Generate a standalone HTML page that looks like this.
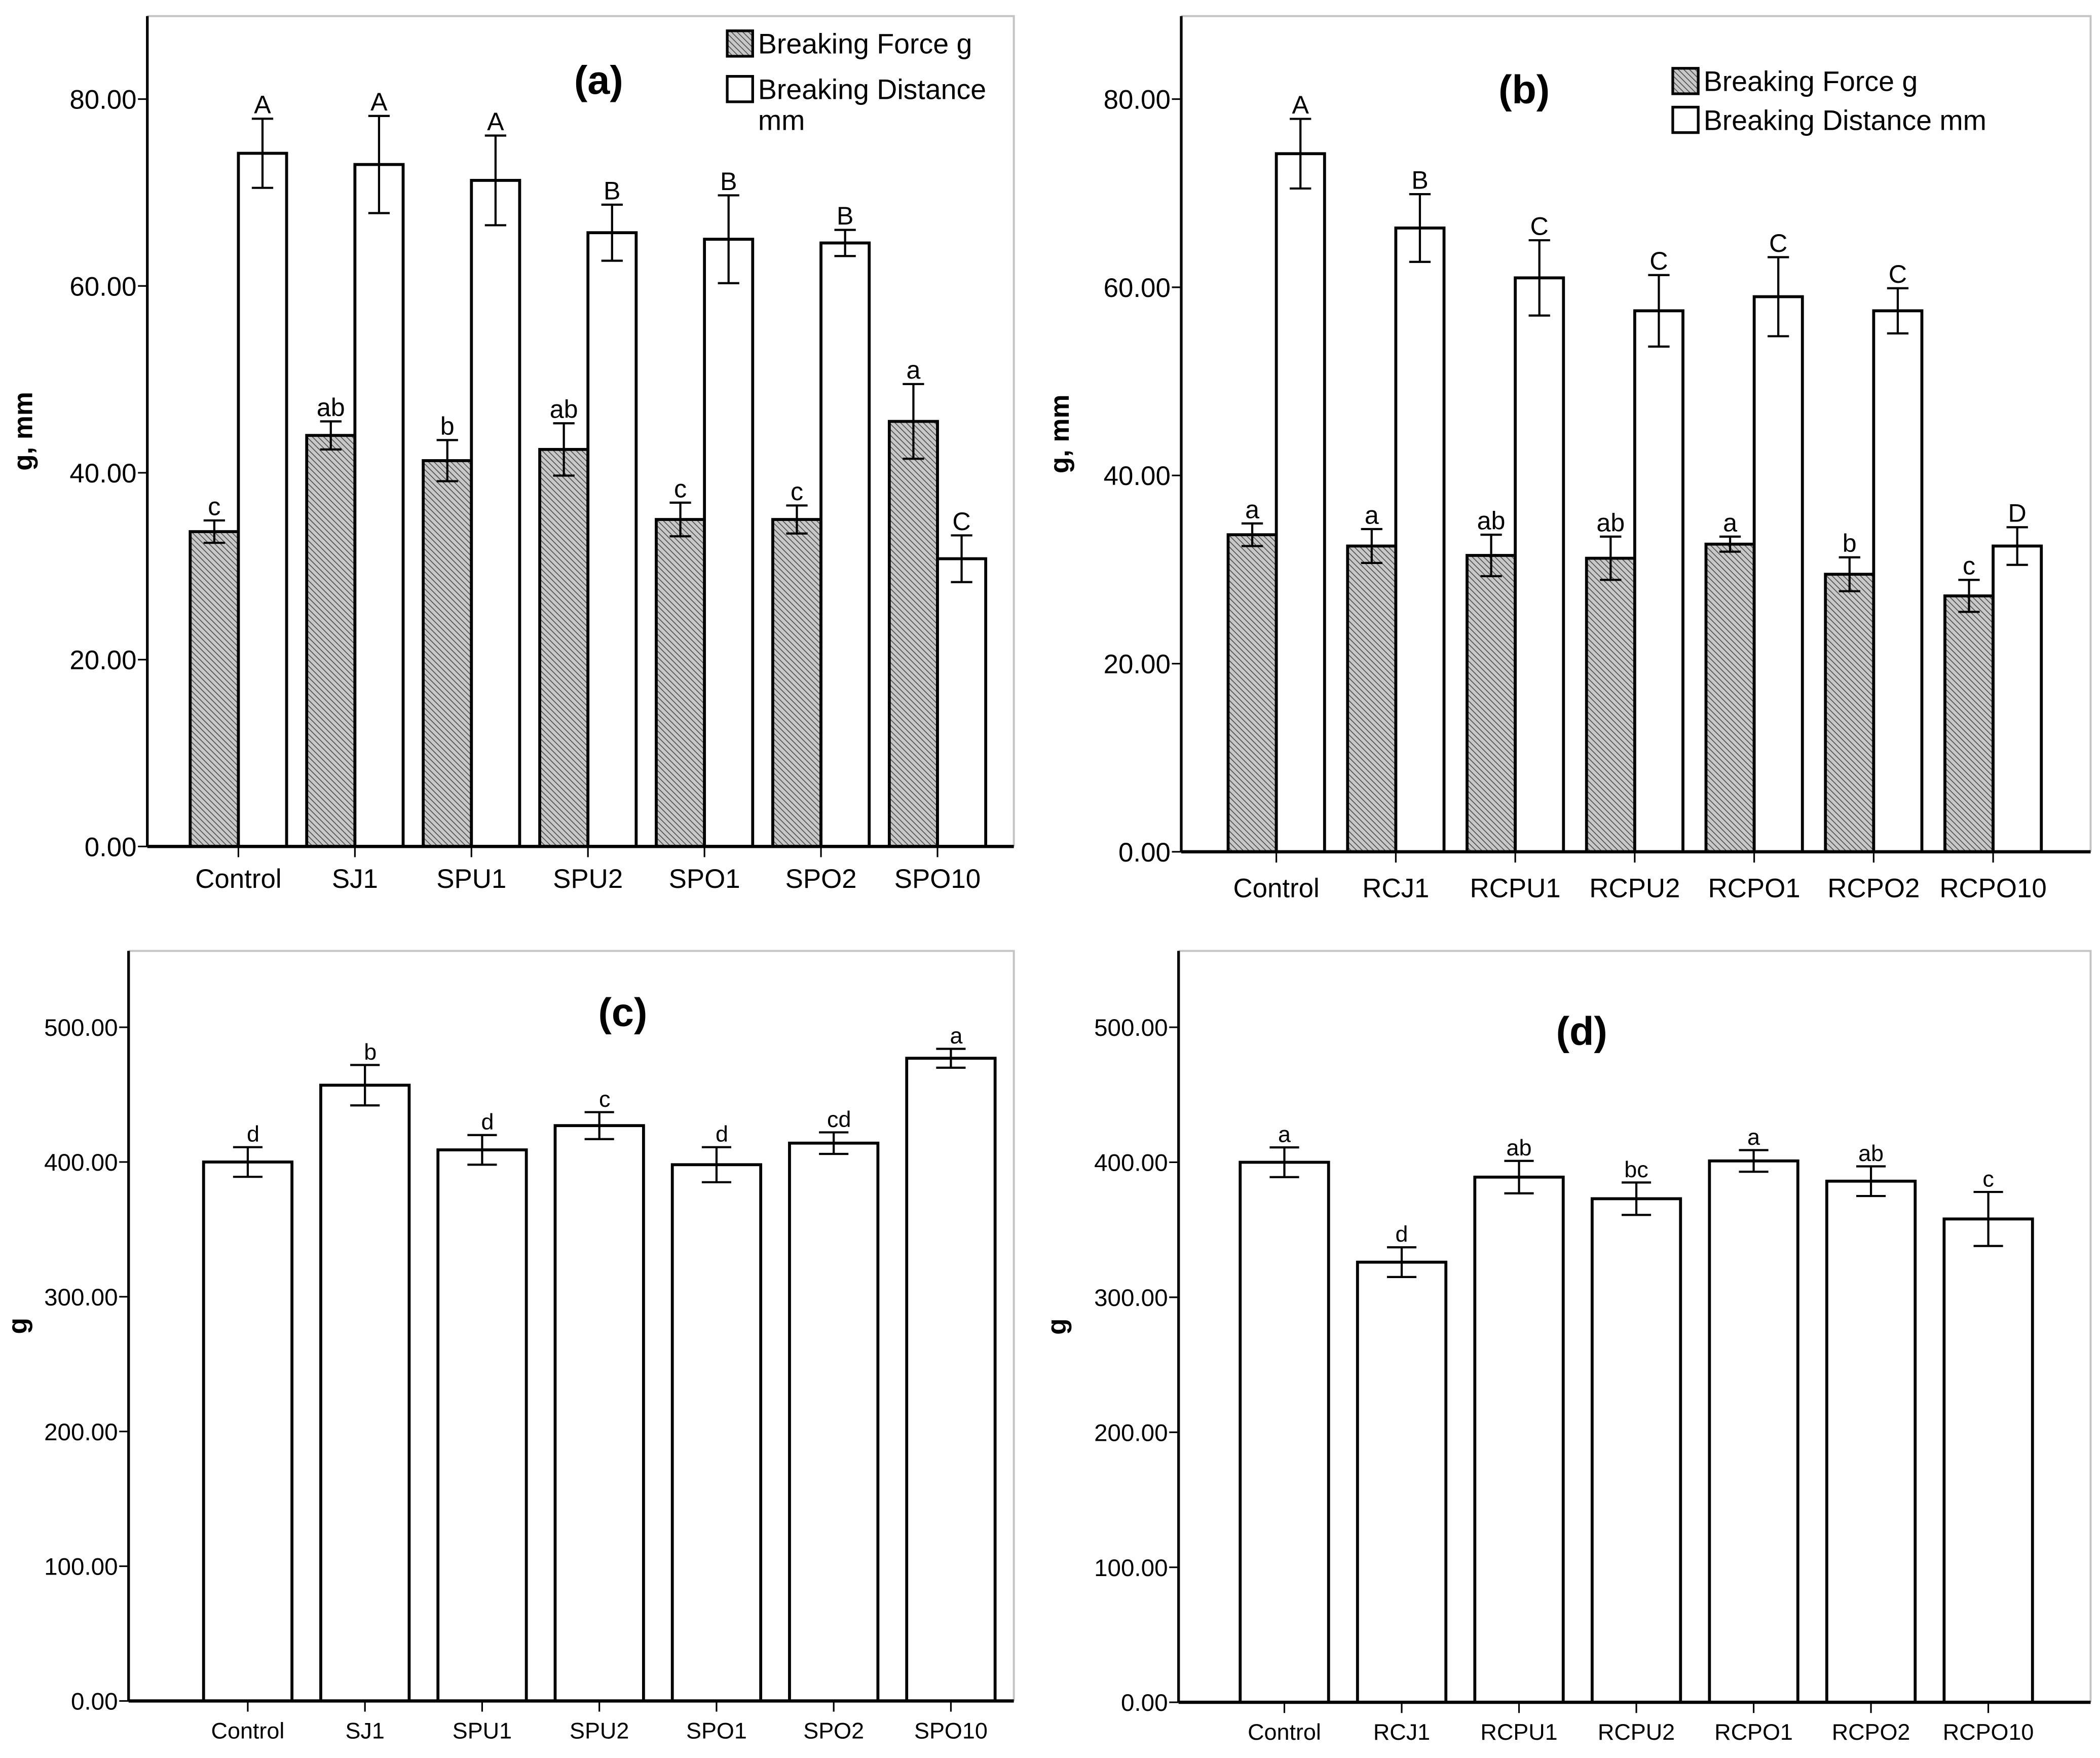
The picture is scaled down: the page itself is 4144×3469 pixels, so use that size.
<!DOCTYPE html>
<html><head><meta charset="utf-8"><style>
html,body{margin:0;padding:0;background:#fff;}
svg{display:block;}
text{font-family:"Liberation Sans",sans-serif;fill:#000;}
</style></head><body>
<svg id="fig" xmlns="http://www.w3.org/2000/svg" width="4144" height="3469" viewBox="0 0 1568 1312.6">
<defs>
<pattern id="hatch" patternUnits="userSpaceOnUse" width="3" height="3" patternTransform="rotate(-45)">
<rect width="3" height="3" fill="#c8c8c8"/>
<line x1="0" y1="0" x2="0" y2="3" stroke="#4a4a4a" stroke-width="1.2"/>
</pattern>
</defs>
<rect x="0" y="0" width="1568" height="1312.6" fill="#fff"/>
</svg>
<script>
// ---- data ----
var catsA = ["Control","SJ1","SPU1","SPU2","SPO1","SPO2","SPO10"];
var bfA = [33.7,44.0,41.3,42.5,35.0,35.0,45.5];
var bfErrA = [1.2,1.5,2.2,2.8,1.8,1.5,4.0];
var bfLetA = ["c","ab","b","ab","c","c","a"];
var bdA = [74.2,73.0,71.3,65.7,65.0,64.6,30.8];
var bdErrA = [3.7,5.2,4.8,3.0,4.7,1.4,2.5];
var bdLetA = ["A","A","A","B","B","B","C"];

var catsB = ["Control","RCJ1","RCPU1","RCPU2","RCPO1","RCPO2","RCPO10"];
var bfB = [33.7,32.5,31.5,31.2,32.7,29.5,27.2];
var bfErrB = [1.2,1.8,2.2,2.3,0.8,1.8,1.7];
var bfLetB = ["a","a","ab","ab","a","b","c"];
var bdB = [74.2,66.3,61.0,57.5,59.0,57.5,32.5];
var bdErrB = [3.7,3.6,4.0,3.8,4.2,2.4,2.0];
var bdLetB = ["A","B","C","C","C","C","D"];

var valC = [400,457,409,427,398,414,477];
var errC = [11,15,11,10,13,8,7];
var letC = ["d","b","d","c","d","cd","a"];

var valD = [400,326,389,373,401,386,358];
var errD = [11,11,12,12,8,11,20];
var letD = ["a","d","ab","bc","a","ab","c"];

var ticksAB = [0,20,40,60,80];
var ticksCD = [0,100,200,300,400,500];

// ---- drawing ----
var NS = "http://www.w3.org/2000/svg";
var svg = document.getElementById('fig');
function mk(tag, attrs, parent){
  var e = document.createElementNS(NS, tag);
  for (var k in attrs) e.setAttribute(k, attrs[k]);
  (parent||svg).appendChild(e);
  return e;
}
function txt(parent, x, y, s, size, anchor, weight){
  var t = mk('text', {x:x, y:y, 'font-size':size, 'text-anchor':anchor||'middle'}, parent);
  if (weight) t.setAttribute('font-weight', weight);
  t.textContent = s;
  return t;
}

function panel(cfg){
  var g = mk('g', {});
  
  
  var L=cfg.left, R=cfg.right, T=cfg.top, B=cfg.base;
  var yS = function(v){ return B - v*cfg.ppu; };
  var xS = function(i){ return cfg.c0 + i*cfg.step; };
  // frame
  var fr = mk('polyline', {points: L+','+T+' '+R+','+T+' '+R+','+B, fill:'none', stroke:'#c4c4c4', 'stroke-width':1.5}, g);
  
  
  // bars
  cfg.series.forEach(function(s){
    s.vals.forEach(function(v, i){
      var cx = xS(i) + s.off;
      var x0 = cx - cfg.bw/2;
      var r = mk('rect', {x:x0, y:yS(v), width:cfg.bw, height:B - yS(v), fill:s.fill, stroke:'#000', 'stroke-width':2.2}, g);
      
      
      var e = s.errs[i];
      var eg = mk('g', {stroke:'#000', 'stroke-width':1.6}, g);
      
      
      mk('line', {x1:cx, x2:cx, y1:yS(v+e), y2:yS(v-e)}, eg);
      mk('line', {x1:cx-cfg.cap, x2:cx+cfg.cap, y1:yS(v+e), y2:yS(v+e)}, eg);
      mk('line', {x1:cx-cfg.cap, x2:cx+cfg.cap, y1:yS(v-e), y2:yS(v-e)}, eg);
      var lt = txt(g, cx + (cfg.letOff||0), yS(v+e) - 4, s.lets[i], cfg.letSize);
      
      
    });
  });
  // axes
  var ax = mk('line', {x1:L, x2:L, y1:T, y2:B, stroke:'#000', 'stroke-width':2}, g);
  
  
  var bx = mk('line', {x1:L, x2:R, y1:B, y2:B, stroke:'#000', 'stroke-width':2.4}, g);
  
  
  cfg.ticks.forEach(function(t){
    mk('line', {x1:L-7, x2:L, y1:yS(t), y2:yS(t), stroke:'#000', 'stroke-width':1.2}, g);
    var tl = txt(g, L-8, yS(t)+cfg.tickSize*0.36, t.toFixed(2), cfg.tickSize, 'end');
    
    
  });
  cfg.cats.forEach(function(c, i){
    mk('line', {x1:xS(i), x2:xS(i), y1:B, y2:B+8, stroke:'#000', 'stroke-width':1.2}, g);
    var xl = txt(g, xS(i), B + cfg.xlabDy, c, cfg.xSize);
    
    
  });
  // y title
  var yt = txt(g, 0, 0, cfg.ytitle, 20, 'middle', 'bold');
  yt.setAttribute('transform', 'translate(' + cfg.ytX + ',' + ((T+B)/2) + ') rotate(-90)');
  
  
  // title
  var tt = txt(g, cfg.titleX, cfg.titleY, cfg.title, 30, 'middle', 'bold');
  
  
  // legend
  if (cfg.legend){
    var lg = mk('g', {}, g);
    
    
    cfg.legend.forEach(function(it){
      var le = mk('g', {}, lg);
      
      
      mk('rect', {x:it.x, y:it.y, width:19, height:19, fill:it.fill, stroke:'#000', 'stroke-width':2}, le);
      it.lines.forEach(function(s, k){
        txt(le, it.x+23, it.y+17 + k*23, s, 21, 'start');
      });
    });
  }
}

panel({name:'panel-a', cats:catsA, left:110, right:757, top:12, base:632, ppu:6.975,
  c0:178, step:87, bw:36, cap:8, ticks:ticksAB, tickSize:20, xSize:20, xlabDy:31, letSize:19,
  ytitle:'g, mm', ytX:24, title:'(a)', titleX:447, titleY:70,
  series:[{key:'breaking-force', vals:bfA, errs:bfErrA, lets:bfLetA, off:-18, fill:'url(#hatch)'},
          {key:'breaking-distance', vals:bdA, errs:bdErrA, lets:bdLetA, off:18, fill:'#fff'}],
  legend:[{x:543, y:23, fill:'url(#hatch)', lines:['Breaking Force g']},
          {x:543, y:57, fill:'#fff', lines:['Breaking Distance','mm']}]});

panel({name:'panel-b', cats:catsB, left:882, right:1561, top:12, base:636, ppu:7.025,
  c0:953, step:89.2, bw:36, cap:8, ticks:ticksAB, tickSize:20, xSize:20, xlabDy:34, letSize:19,
  ytitle:'g, mm', ytX:798, title:'(b)', titleX:1138, titleY:77,
  series:[{key:'breaking-force', vals:bfB, errs:bfErrB, lets:bfLetB, off:-18, fill:'url(#hatch)'},
          {key:'breaking-distance', vals:bdB, errs:bdErrB, lets:bdLetB, off:18, fill:'#fff'}],
  legend:[{x:1249, y:51, fill:'url(#hatch)', lines:['Breaking Force g']},
          {x:1249, y:80, fill:'#fff', lines:['Breaking Distance mm']}]});

panel({name:'panel-c', cats:catsA, left:96, right:757, top:710, base:1270, ppu:1.006,
  c0:185, step:87.5, bw:66, cap:11, ticks:ticksCD, tickSize:18, xSize:17, xlabDy:28, letSize:17, letOff:4,
  ytitle:'g', ytX:20, title:'(c)', titleX:465, titleY:766,
  series:[{key:'breaking-force', vals:valC, errs:errC, lets:letC, off:0, fill:'#fff'}]});

panel({name:'panel-d', cats:catsB, left:880, right:1561, top:710, base:1271, ppu:1.008,
  c0:959, step:87.6, bw:66, cap:11, ticks:ticksCD, tickSize:18, xSize:17, xlabDy:28, letSize:17,
  ytitle:'g', ytX:796, title:'(d)', titleX:1181, titleY:780,
  series:[{key:'breaking-force', vals:valD, errs:errD, lets:letD, off:0, fill:'#fff'}]});
</script>
</body></html>
